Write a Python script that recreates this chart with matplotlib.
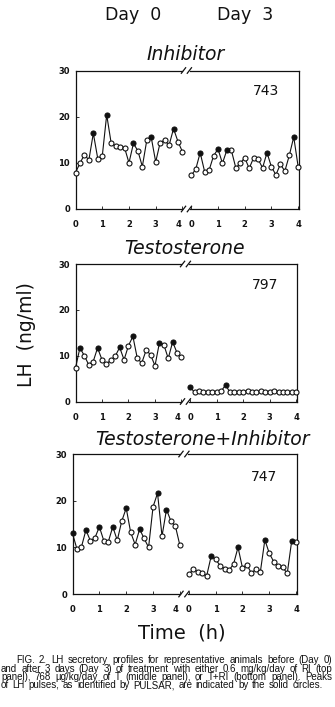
import numpy as np
import matplotlib
matplotlib.use("Agg")
import matplotlib.pyplot as plt
import matplotlib.transforms as mtransforms

# Sampling grid: blood drawn every 10 min for 4 h on each day
minutes = list(range(0, 241, 10))
day3_offset = 4.33  # horizontal offset of the Day 3 block (h)

# LH concentrations (ng/ml)
inhib_d0 = [7.9, 9.9, 11.8, 10.6, 16.4, 10.9, 11.4, 20.4, 14.3, 13.6, 13.4, 13.3, 10.0,
            14.2, 12.6, 9.2, 14.9, 15.5, 10.2, 14.4, 14.9, 13.8, 17.4, 14.6, 12.4]
inhib_d3 = [7.3, 8.6, 12.2, 8.1, 8.4, 11.5, 13.0, 9.9, 12.8, 12.7, 8.9, 9.9, 11.1,
            8.8, 11.1, 10.8, 8.9, 12.2, 9.1, 7.4, 9.7, 8.2, 11.6, 15.6, 9.1]
testo_d0 = [7.3, 11.7, 10.0, 8.0, 8.7, 11.7, 9.1, 8.2, 9.0, 9.9, 11.8, 9.1, 12.2,
            14.2, 9.4, 8.4, 11.2, 10.2, 7.8, 12.8, 12.4, 9.4, 13.0, 10.6, 9.7]
testo_d3 = [3.1, 2.0, 2.3, 2.1, 2.0, 2.0, 2.1, 2.25, 3.6, 2.0, 2.0, 2.0, 2.0,
            2.4, 2.1, 2.0, 2.2, 2.1, 2.0, 2.25, 2.1, 2.0, 2.0, 2.0, 2.0]
combo_d0 = [13.0, 9.6, 10.1, 13.7, 11.4, 12.0, 14.4, 11.4, 11.2, 14.4, 11.5, 15.6, 18.4,
            13.2, 10.6, 13.9, 11.9, 10.0, 18.7, 21.6, 12.4, 18.1, 15.6, 14.5, 10.4]
combo_d3 = [4.2, 5.3, 4.8, 4.4, 3.9, 8.1, 7.4, 6.1, 5.4, 5.1, 6.4, 10.0, 5.6,
            6.3, 4.4, 5.4, 4.8, 11.6, 8.7, 6.9, 5.9, 5.7, 4.4, 11.4, 11.1]

# Sample indices identified as pulse peaks by PULSAR
inhib_d0_peaks = [4, 7, 13, 17, 22]
inhib_d3_peaks = [2, 6, 8, 17, 23]
testo_d0_peaks = [1, 5, 10, 13, 19, 22]
testo_d3_peaks = [0, 8]
combo_d0_peaks = [0, 3, 6, 9, 12, 15, 19, 21]
combo_d3_peaks = [5, 11, 17, 23]

panel_titles = ["Inhibitor", "Testosterone", "Testosterone+Inhibitor"]
animal_ids = ["743", "797", "747"]
day_labels = ["Day  0", "Day  3"]
hour_labels = ["0", "1", "2", "3", "4"]
y_ticks = [0, 10, 20, 30]

caption_lines = [
    "FIG. 2.  LH secretory profiles for representative animals before (Day 0)",
    "and after 3 days (Day 3) of treatment with either 0.6 mg/kg/day of RI (top",
    "panel), 768 \u00b5g/kg/day of T (middle panel), or T+RI (bottom panel). Peaks",
    "of LH pulses, as identified by PULSAR, are indicated by the solid circles.",
]

panels = [
    (inhib_d0, inhib_d3, inhib_d0_peaks, inhib_d3_peaks),
    (testo_d0, testo_d3, testo_d0_peaks, testo_d3_peaks),
    (combo_d0, combo_d3, combo_d0_peaks, combo_d3_peaks),
]

W, H = 335, 707
fig = plt.figure(figsize=(W / 100, H / 100), dpi=100)
fig.patch.set_facecolor("white")


def fx(px):
    return px / W


def fy(py):
    return 1 - py / H


# axes boxes in pixels: left, right, top, bottom
boxes = [(75.5, 299, 70.5, 209), (75.5, 297, 264, 401.5), (72.5, 297, 454, 594)]
title_pos = [(186, 55), (184, 248), (202, 440)]
id_pos = [(265.5, 91), (265, 285), (263.5, 477)]

hours = np.array(minutes) / 60.0
XMAX = 8.36
ink = "#111111"

for k, ((d0, d3, p0, p3), (l, r, t, b)) in enumerate(zip(panels, boxes)):
    ax = fig.add_axes([fx(l), fy(b), fx(r - l), (b - t) / H])
    ax.set_xlim(0, XMAX)
    ax.set_ylim(0, 30)
    for side in ("top", "bottom"):
        ax.spines[side].set_visible(False)
    for side in ("left", "right"):
        ax.spines[side].set_linewidth(0.9)
        ax.spines[side].set_color(ink)

    # broken top and bottom frame lines
    tr = mtransforms.blended_transform_factory(ax.transData, ax.transAxes)
    for yy in (0, 1):
        ax.plot([0, 4.0], [yy, yy], color=ink, lw=0.9, transform=tr, clip_on=False)
        ax.plot([4.3, XMAX], [yy, yy], color=ink, lw=0.9, transform=tr, clip_on=False)
        for xc in (4.04, 4.26):
            ax.plot([xc - 0.08, xc + 0.08], [yy - 0.02, yy + 0.02], color=ink,
                    lw=0.9, transform=tr, clip_on=False)

    for vals, peaks, off in ((d0, p0, 0.0), (d3, p3, day3_offset)):
        xs = hours + off
        vals = np.asarray(vals)
        ax.plot(xs, vals, color=ink, lw=0.8, zorder=2, clip_on=False)
        is_peak = np.zeros(len(vals), bool)
        is_peak[peaks] = True
        ax.plot(xs[~is_peak], vals[~is_peak], ls="none", marker="o", ms=3.6,
                mfc="white", mec=ink, mew=0.8, zorder=3, clip_on=False)
        ax.plot(xs[is_peak], vals[is_peak], ls="none", marker="o", ms=3.6,
                mfc=ink, mec=ink, mew=0.8, zorder=3, clip_on=False)

    xt = [0, 1, 2, 3, 4] + [day3_offset + h for h in range(5)]
    ax.set_xticks(xt)
    ax.set_xticklabels(hour_labels + hour_labels, fontsize=6, fontweight="bold")
    ax.set_yticks(y_ticks)
    ax.set_yticklabels([str(v) for v in y_ticks], fontsize=6, fontweight="bold")
    ax.tick_params(axis="x", direction="in", length=2, width=0.6, pad=8, colors=ink)
    ax.tick_params(axis="y", direction="in", length=2, width=0.6, pad=4, colors=ink)
    # nudge the Day 0 "4" away from the Day 3 "0"
    lab4 = ax.get_xticklabels()[4]
    lab4.set_transform(lab4.get_transform() +
                       mtransforms.ScaledTranslation(-4 / 100, 0, fig.dpi_scale_trans))

    tx, ty = title_pos[k]
    fig.text(fx(tx), fy(ty), panel_titles[k], fontsize=13.5, style="italic",
             ha="center", va="center", color=ink)
    ix, iy = id_pos[k]
    fig.text(fx(ix), fy(iy), animal_ids[k], fontsize=10, ha="center", va="center",
             color=ink)

# column headings and axis titles
fig.text(fx(133.5), fy(15), day_labels[0], fontsize=12.5, ha="center", va="center", color=ink)
fig.text(fx(245), fy(15), day_labels[1], fontsize=12.5, ha="center", va="center", color=ink)
fig.text(fx(26), fy(335), "LH  (ng/ml)", fontsize=13.5, rotation=90, ha="center",
         va="center", color=ink)
fig.text(fx(181.5), fy(633), "Time  (h)", fontsize=14, ha="center", va="center", color=ink)

# justified caption
renderer = fig.canvas.get_renderer()
cap_font = "Liberation Sans"
line_y = [663, 671.5, 680, 688.5]
line_x0 = [16, 1, 1, 1]
line_x1 = 332


def natural_width(s, size):
    t = fig.text(0, 0, s, fontsize=size, family=cap_font)
    w = t.get_window_extent(renderer).width
    t.remove()
    return w


# largest size at which every justified line still fits with ordinary spacing
cap_size = min(10 * (line_x1 - line_x0[i]) / natural_width(caption_lines[i], 10) * 0.97
               for i in range(len(caption_lines) - 1))
space_w = natural_width("a a", cap_size) - natural_width("aa", cap_size)

for i, (line, y) in enumerate(zip(caption_lines, line_y)):
    words = [w for w in line.split(" ") if w != ""]
    items = []
    for w in words:
        t = fig.text(0, 0, w, fontsize=cap_size, family=cap_font, color=ink,
                     va="baseline", ha="left")
        items.append((t, t.get_window_extent(renderer).width))
    total = sum(wd for _, wd in items)
    if i < len(caption_lines) - 1:
        gap = (line_x1 - line_x0[i] - total) / (len(items) - 1)
    else:
        gap = space_w * 1.3
    x = line_x0[i]
    for t, wd in items:
        t.set_position((fx(x), fy(y)))
        x += wd + gap

fig.savefig("out.png", dpi=100, facecolor="white")
